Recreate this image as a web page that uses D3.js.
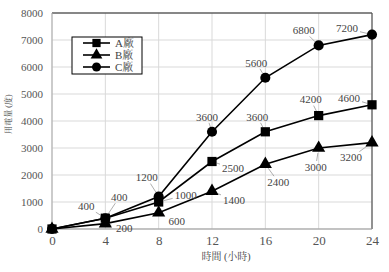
<!DOCTYPE html>
<html>
<head>
<meta charset="utf-8">
<script src="https://cdn.jsdelivr.net/npm/d3@7"></script>
<style>
  body { margin: 0; background: #fff; }
  text { font-family: "Liberation Serif", "Noto Serif CJK TC", "Noto Sans CJK TC", serif; }
</style>
</head>
<body>
<div id="chart"></div>
<script>
var hours = [0, 4, 8, 12, 16, 20, 24];
var factoryA = [0, 400, 1000, 2500, 3600, 4200, 4600];
var factoryB = [0, 200, 600, 1400, 2400, 3000, 3200];
var factoryC = [0, 400, 1200, 3600, 5600, 6800, 7200];
var seriesNames = ["A廠", "B廠", "C廠"];
var yTicks = [0, 1000, 2000, 3000, 4000, 5000, 6000, 7000, 8000];

// label offsets (px) from each point
var offA = [null, [-19, -12], [27, -7], [21, 7], [-8, -15], [-8, -16], [-23, -7]];
var offB = [null, [19, 5], [18, 8], [22, 9], [13, 18], [-3, 19], [-21, 15]];
var offC = [null, [14, -21], [-12, -19], [-5, -15], [-9, -15], [-15, -15], [-25, -6]];

var width = 389, height = 272;
var plotL = 52, plotR = 372, plotT = 13, plotB = 229;

var svg = d3.select("#chart").append("svg")
    .attr("width", width)
    .attr("height", height);

var x = d3.scaleLinear().domain([0, 24]).range([plotL, plotR]);
var y = d3.scaleLinear().domain([0, 8000]).range([plotB, plotT]);

// grid
svg.append("g").selectAll("line").data(yTicks).enter().append("line")
  .attr("x1", plotL).attr("x2", plotR)
  .attr("y1", function(d) { return y(d); }).attr("y2", function(d) { return y(d); })
  .attr("stroke", "#d9d9d9").attr("stroke-width", 1);
svg.append("g").selectAll("line").data(hours).enter().append("line")
  .attr("y1", plotT).attr("y2", plotB)
  .attr("x1", function(d) { return x(d); }).attr("x2", function(d) { return x(d); })
  .attr("stroke", "#d9d9d9").attr("stroke-width", 1);

// frame
svg.append("line").attr("x1", plotL).attr("x2", plotR).attr("y1", plotT).attr("y2", plotT)
  .attr("stroke", "#222").attr("stroke-width", 1.2);
svg.append("line").attr("x1", plotR).attr("x2", plotR).attr("y1", plotT).attr("y2", plotB)
  .attr("stroke", "#555").attr("stroke-width", 1.2);
svg.append("line").attr("x1", plotL).attr("x2", plotL).attr("y1", plotT).attr("y2", plotB)
  .attr("stroke", "#aaa").attr("stroke-width", 1);
svg.append("line").attr("x1", plotL).attr("x2", plotR).attr("y1", plotB).attr("y2", plotB)
  .attr("stroke", "#999").attr("stroke-width", 1);

// axes
var yAxis = svg.append("g").attr("transform", "translate(" + plotL + ",0)")
  .call(d3.axisLeft(y).tickValues(yTicks).tickSize(0).tickPadding(9).tickFormat(d3.format("d")));
var xAxis = svg.append("g").attr("transform", "translate(0," + plotB + ")")
  .call(d3.axisBottom(x).tickValues(hours).tickSize(0).tickPadding(7));
[yAxis, xAxis].forEach(function(a) {
  a.select(".domain").remove();
  a.selectAll("text").attr("fill", "#555").style("font-size", "11px")
    .style("font-family", "'Liberation Serif', serif");
});
xAxis.selectAll("text").style("font-size", "13px");

svg.append("text")
  .attr("transform", "translate(11,114) rotate(-90)")
  .attr("text-anchor", "middle")
  .attr("fill", "#444")
  .style("font-size", "8px")
  .text("用電量 (度)");

svg.append("text")
  .attr("x", 226).attr("y", 260)
  .attr("text-anchor", "middle")
  .attr("fill", "#444")
  .style("font-size", "10px")
  .text("時間 (小時)");

var series = [
  { name: seriesNames[0], values: factoryA, offs: offA, shape: d3.symbolSquare, size: 85 },
  { name: seriesNames[1], values: factoryB, offs: offB, shape: d3.symbolTriangle, size: 75 },
  { name: seriesNames[2], values: factoryC, offs: offC, shape: d3.symbolCircle, size: 80 }
];

var line = d3.line()
  .x(function(d) { return x(d[0]); })
  .y(function(d) { return y(d[1]); });

series.forEach(function(s) {
  var pts = hours.map(function(h, i) { return [h, s.values[i]]; });
  svg.append("path").datum(pts)
    .attr("d", line)
    .attr("fill", "none").attr("stroke", "#000").attr("stroke-width", 1.6);
});

// leader lines and labels
series.forEach(function(s) {
  hours.forEach(function(h, i) {
    var o = s.offs[i];
    if (!o) return;
    var px = x(h), py = y(s.values[i]);
    var lx = px + o[0], ly = py + o[1];
    var hw = 13, hh = 6;
    var dx = px - lx, dy = py - ly;
    var t = Math.min(dx ? hw / Math.abs(dx) : 99, dy ? hh / Math.abs(dy) : 99);
    var sx = lx + dx * t, sy = ly + dy * t;
    var len = Math.sqrt(dx * dx + dy * dy);
    var ex = px - dx / len * 5, ey = py - dy / len * 5;
    if ((ex - sx) * dx + (ey - sy) * dy > 0) {
      svg.append("line")
        .attr("x1", sx).attr("y1", sy).attr("x2", ex).attr("y2", ey)
        .attr("stroke", "#999").attr("stroke-width", 0.8);
    }
    svg.append("text")
      .attr("x", lx).attr("y", ly)
      .attr("dy", "0.35em")
      .attr("text-anchor", "middle")
      .attr("fill", "#444")
      .style("font-size", "11px")
      .text(s.values[i]);
  });
});

// markers
series.forEach(function(s) {
  svg.append("g").selectAll("path")
    .data(hours.map(function(h, i) { return [h, s.values[i]]; }))
    .enter().append("path")
    .attr("d", d3.symbol().type(s.shape).size(s.size))
    .attr("transform", function(d) { return "translate(" + x(d[0]) + "," + y(d[1]) + ")"; })
    .attr("fill", "#000");
});

// legend
var lg = svg.append("g").attr("transform", "translate(72,37)");
lg.append("rect").attr("width", 70).attr("height", 37)
  .attr("fill", "#fff").attr("stroke", "#000").attr("stroke-width", 1);
series.forEach(function(s, i) {
  var yy = 6 + i * 12;
  lg.append("line").attr("x1", 11).attr("x2", 38).attr("y1", yy).attr("y2", yy)
    .attr("stroke", "#000").attr("stroke-width", 1.6);
  lg.append("path").attr("d", d3.symbol().type(s.shape).size(s.size * 0.8))
    .attr("transform", "translate(24.5," + yy + ")").attr("fill", "#000");
  lg.append("text").attr("x", 43).attr("y", yy).attr("dy", "0.35em")
    .attr("fill", "#444").style("font-size", "11px").text(s.name);
});
</script>
</body>
</html>
